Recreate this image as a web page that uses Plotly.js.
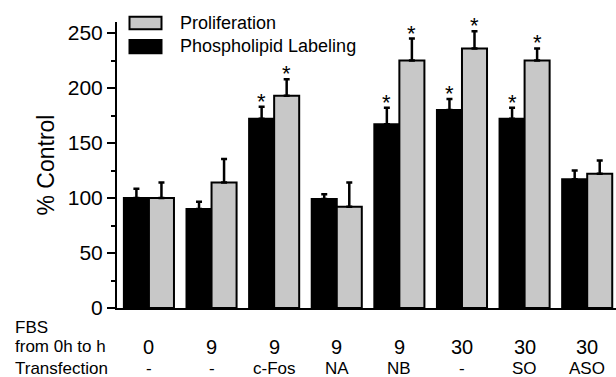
<!DOCTYPE html>
<html>
<head>
<meta charset="utf-8">
<script src="https://cdn.plot.ly/plotly-3.0.1.min.js"></script>
<style>html,body{margin:0;padding:0;background:#fff;}#chart{width:616px;height:377px;}</style>
</head>
<body>
<div id="chart"></div>
<script>
// ---- data ----
var fbsHours = ['0', '9', '9', '9', '9', '30', '30', '30'];
var transfection = ['-', '-', 'c-Fos', 'NA', 'NB', '-', 'SO', 'ASO'];
var seriesNames = ['Phospholipid Labeling', 'Proliferation'];
var phosphoValues = [100, 90, 172, 99, 167, 180, 172, 117];
var phosphoErrors = [8.5, 6.5, 11, 4.5, 15, 10, 10, 8];
var phosphoSig = [false, false, true, false, true, true, true, false];
var prolifValues = [100, 114, 193, 92, 225, 236, 225, 122];
var prolifErrors = [14, 21.5, 15, 22, 20, 15.5, 11, 12];
var prolifSig = [false, false, true, false, true, true, true, false];
var rowLabels = ['FBS', 'from 0h to h', 'Transfection'];

// ---- geometry helpers (plot area: x 117..616, y 22..308) ----
var L = 117, R = 0, T = 22, B = 69, W = 616, H = 377;
var pw = W - L - R, ph = H - T - B;
function px(x) { return (x - L) / pw; }
function py(y) { return (H - B - y) / ph; }

var FONT = 'Liberation Sans, Arial, Helvetica, sans-serif';
var idx = fbsHours.map(function (_, i) { return i; });
var zeros = idx.map(function () { return 0; });

var traces = [
  {
    type: 'bar', name: seriesNames[0], x: idx, y: phosphoValues,
    marker: { color: '#000000', line: { color: '#000000', width: 2 } },
    error_y: { type: 'data', symmetric: false, array: phosphoErrors, arrayminus: zeros,
               color: '#000000', thickness: 2.5, width: 3 },
    showlegend: false, hoverinfo: 'y'
  },
  {
    type: 'bar', name: seriesNames[1], x: idx, y: prolifValues,
    marker: { color: '#c8c8c8', line: { color: '#000000', width: 2 } },
    error_y: { type: 'data', symmetric: false, array: prolifErrors, arrayminus: zeros,
               color: '#000000', thickness: 2.5, width: 3 },
    showlegend: false, hoverinfo: 'y'
  }
];

var annotations = [];
// significance stars
function addStars(values, errs, sig, offset) {
  for (var i = 0; i < values.length; i++) {
    if (!sig[i]) continue;
    annotations.push({
      x: i + offset, y: values[i] + errs[i], xref: 'x', yref: 'y',
      text: '*', showarrow: false, yanchor: 'bottom', xanchor: 'center',
      yshift: -9, font: { family: FONT, size: 22, color: '#000' }
    });
  }
}
addStars(phosphoValues, phosphoErrors, phosphoSig, -0.2);
addStars(prolifValues, prolifErrors, prolifSig, 0.2);

// category rows under axis
for (var i = 0; i < fbsHours.length; i++) {
  annotations.push({ x: i, y: py(347), xref: 'x', yref: 'paper', text: fbsHours[i],
    showarrow: false, xanchor: 'center', yanchor: 'middle',
    font: { family: FONT, size: 20, color: '#000' } });
  annotations.push({ x: i, y: py(368), xref: 'x', yref: 'paper', text: transfection[i],
    showarrow: false, xanchor: 'center', yanchor: 'middle',
    font: { family: FONT, size: 17, color: '#000' } });
}
var rowY = [327, 347, 368];
for (var r = 0; r < rowLabels.length; r++) {
  annotations.push({ x: px(13), y: py(rowY[r]), xref: 'paper', yref: 'paper', text: rowLabels[r],
    showarrow: false, xanchor: 'left', yanchor: 'middle',
    font: { family: FONT, size: 17, color: '#000' } });
}

// custom legend
var legendItems = [
  { name: seriesNames[1], color: '#c8c8c8', top: 16.7, bottom: 29.3, textY: 22.5 },
  { name: seriesNames[0], color: '#000000', top: 40, bottom: 53.3, textY: 46.5 }
];
var shapes = [];
legendItems.forEach(function (it) {
  shapes.push({ type: 'rect', xref: 'paper', yref: 'paper',
    x0: px(129.5), x1: px(161.5), y0: py(it.bottom), y1: py(it.top),
    fillcolor: it.color, line: { color: '#000', width: 2 } });
  annotations.push({ x: px(178), y: py(it.textY), xref: 'paper', yref: 'paper', text: it.name,
    showarrow: false, xanchor: 'left', yanchor: 'middle',
    font: { family: FONT, size: 18, color: '#000' } });
});

var layout = {
  width: W, height: H,
  margin: { l: L, r: R, t: T, b: B, pad: 0 },
  paper_bgcolor: '#fff', plot_bgcolor: '#fff',
  barmode: 'group', bargap: 0.2, bargroupgap: 0,
  font: { family: FONT, color: '#000' },
  xaxis: {
    range: [-0.51, 7.46], showline: true, linecolor: '#000', linewidth: 2,
    showgrid: false, zeroline: false, ticks: '', showticklabels: false, fixedrange: true
  },
  yaxis: {
    range: [0, 260], showline: true, linecolor: '#000', linewidth: 2,
    showgrid: false, zeroline: false,
    tickmode: 'linear', tick0: 0, dtick: 50,
    ticks: 'outside', ticklen: 8, tickwidth: 2, tickcolor: '#000',
    tickfont: { family: FONT, size: 21, color: '#000' },
    minor: { dtick: 25, ticks: 'outside', ticklen: 4, tickwidth: 2, tickcolor: '#000', showgrid: false },
    title: { text: '% Control', font: { family: FONT, size: 23, color: '#000' }, standoff: 7 },
    fixedrange: true
  },
  showlegend: false,
  annotations: annotations,
  shapes: shapes
};

Plotly.newPlot('chart', traces, layout, { displayModeBar: false, staticPlot: true });
</script>
</body>
</html>
